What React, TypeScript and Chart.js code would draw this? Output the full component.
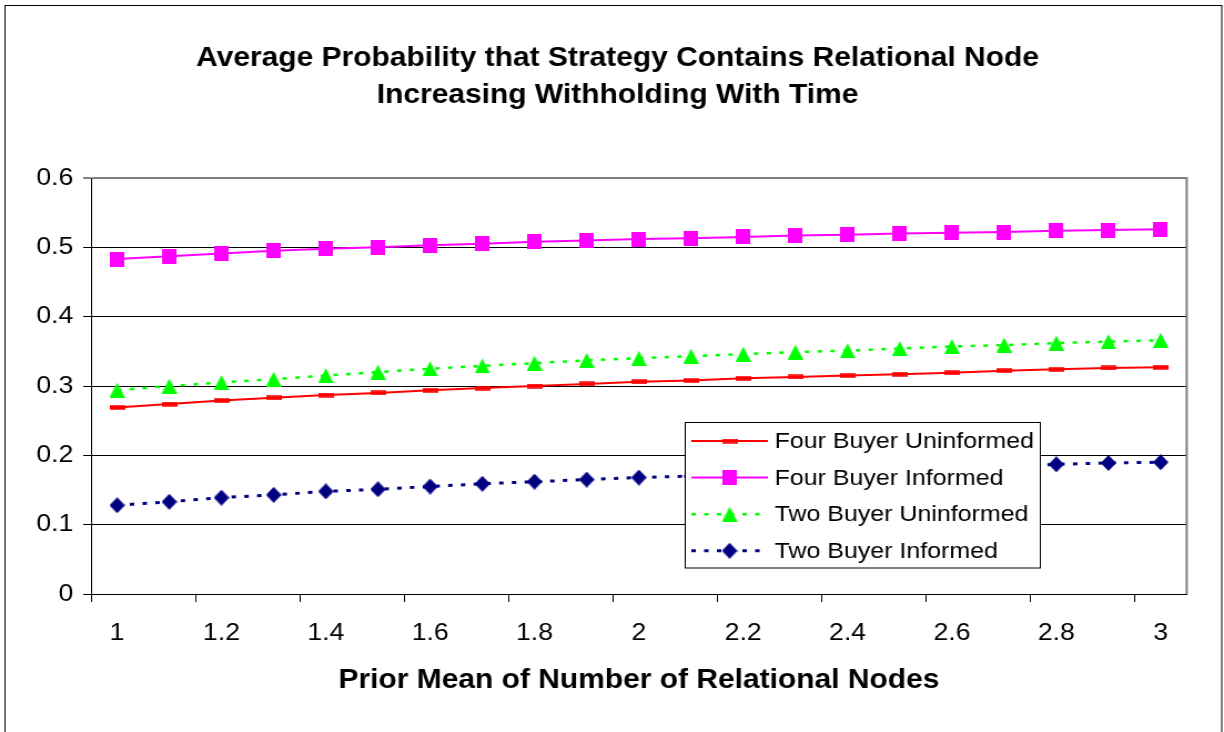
import React, { useEffect, useRef } from 'react';
import { Chart, registerables } from 'chart.js';

Chart.register(...registerables);

// ---------- data ----------
const xCategories = [
  '1', '1.1', '1.2', '1.3', '1.4', '1.5', '1.6', '1.7', '1.8', '1.9', '2',
  '2.1', '2.2', '2.3', '2.4', '2.5', '2.6', '2.7', '2.8', '2.9', '3',
];
const xTickLabels = ['1', '1.2', '1.4', '1.6', '1.8', '2', '2.2', '2.4', '2.6', '2.8', '3'];
const yTickLabels = ['0', '0.1', '0.2', '0.3', '0.4', '0.5', '0.6'];

const seriesNames = [
  'Four Buyer Uninformed',
  'Four Buyer Informed',
  'Two Buyer Uninformed',
  'Two Buyer Informed',
];

const fourBuyerUninformed = [
  0.269, 0.274, 0.279, 0.283, 0.287, 0.290, 0.294, 0.297, 0.300, 0.303, 0.306,
  0.308, 0.311, 0.313, 0.315, 0.317, 0.319, 0.322, 0.324, 0.326, 0.327,
];
const fourBuyerInformed = [
  0.483, 0.487, 0.491, 0.495, 0.498, 0.500, 0.503, 0.505, 0.508, 0.510, 0.512,
  0.513, 0.515, 0.517, 0.518, 0.520, 0.521, 0.522, 0.524, 0.525, 0.526,
];
const twoBuyerUninformed = [
  0.294, 0.300, 0.305, 0.310, 0.315, 0.320, 0.325, 0.329, 0.333, 0.337, 0.340,
  0.343, 0.346, 0.349, 0.351, 0.354, 0.357, 0.359, 0.362, 0.364, 0.366,
];
const twoBuyerInformed = [
  0.128, 0.133, 0.139, 0.143, 0.148, 0.151, 0.155, 0.159, 0.162, 0.165, 0.168,
  0.170, 0.173, 0.175, 0.178, 0.180, 0.182, 0.184, 0.187, 0.189, 0.190,
];

const titleLines = [
  'Average Probability that Strategy Contains Relational Node',
  'Increasing Withholding With Time',
];
const xAxisTitle = 'Prior Mean of Number of Relational Nodes';

// ---------- drawing constants ----------
const FONT = '"Liberation Sans", Arial, sans-serif';
const NATURAL_W = 1103; // rendered width, stretched to 1224 on screen
const H = 732;

function makeMarker(kind: string, color: string): HTMLCanvasElement {
  const c = document.createElement('canvas');
  let w = 14;
  let h = 15;
  if (kind === 'square') { w = 13; h = 15; }
  if (kind === 'diamond') { w = 14; h = 16; }
  if (kind === 'dash') { w = 14; h = 5; }
  c.width = w;
  c.height = h;
  const g = c.getContext('2d') as CanvasRenderingContext2D;
  g.fillStyle = color;
  g.beginPath();
  if (kind === 'square') {
    g.rect(0, 0, w, h);
  } else if (kind === 'triangle') {
    g.moveTo(w / 2, 0);
    g.lineTo(w, h);
    g.lineTo(0, h);
    g.closePath();
  } else if (kind === 'diamond') {
    g.moveTo(w / 2, 0);
    g.lineTo(w, h / 2);
    g.lineTo(w / 2, h);
    g.lineTo(0, h / 2);
    g.closePath();
  } else {
    g.rect(0, 0.25, w, 4.5);
  }
  g.fill();
  return c;
}

const framePlugin = {
  id: 'frame',
  beforeDraw(chart: any) {
    const ctx = chart.ctx as CanvasRenderingContext2D;
    ctx.save();
    ctx.fillStyle = '#ffffff';
    ctx.fillRect(0, 0, chart.width, chart.height);
    ctx.strokeStyle = '#000000';
    ctx.lineWidth = 1;
    ctx.strokeRect(4.5, 5.5, 1096.5, 760);
    ctx.fillStyle = '#000000';
    ctx.font = `bold 27px ${FONT}`;
    ctx.textAlign = 'center';
    ctx.textBaseline = 'middle';
    titleLines.forEach((t, i) => ctx.fillText(t, 556.5, 58.5 + i * 37.5));
    ctx.restore();
  },
  afterDatasetsDraw(chart: any) {
    const ctx = chart.ctx as CanvasRenderingContext2D;
    const a = chart.chartArea;
    ctx.save();
    // plot area right border
    ctx.strokeStyle = '#808080';
    ctx.lineWidth = 2;
    ctx.beginPath();
    ctx.moveTo(a.right, a.top - 1);
    ctx.lineTo(a.right, a.bottom);
    ctx.stroke();

    // legend box
    const lx = 617.5;
    const ly = 422.5;
    const lw = 320;
    const lh = 145.5;
    ctx.fillStyle = '#ffffff';
    ctx.fillRect(lx, ly, lw, lh);
    ctx.strokeStyle = '#000000';
    ctx.lineWidth = 1;
    ctx.strokeRect(lx, ly, lw, lh);
    chart.data.datasets.forEach((ds: any, i: number) => {
      const y = 441 + i * 36.6;
      ctx.strokeStyle = ds.borderColor;
      ctx.lineWidth = ds.borderWidth;
      ctx.setLineDash(ds.borderDash || []);
      ctx.beginPath();
      ctx.moveTo(623, y);
      ctx.lineTo(692, y);
      ctx.stroke();
      ctx.setLineDash([]);
      const m = ds.pointStyle as HTMLCanvasElement;
      ctx.drawImage(m, 657.5 - m.width / 2, y - m.height / 2);
      ctx.fillStyle = '#000000';
      ctx.font = `22.5px ${FONT}`;
      ctx.textAlign = 'left';
      ctx.textBaseline = 'middle';
      ctx.fillText(ds.label, 698, y + 1);
    });
    ctx.restore();
  },
};

export default function App() {
  const canvasRef = useRef<HTMLCanvasElement | null>(null);

  useEffect(() => {
    const canvas = canvasRef.current;
    if (!canvas) return;
    const chart = new Chart(canvas, {
      type: 'line',
      data: {
        labels: xCategories,
        datasets: [
          {
            label: seriesNames[0],
            data: fourBuyerUninformed,
            borderColor: '#ff0000',
            borderWidth: 2,
            pointStyle: makeMarker('dash', '#ff0000'),
            pointRadius: 7,
            tension: 0,
            fill: false,
          },
          {
            label: seriesNames[1],
            data: fourBuyerInformed,
            borderColor: '#ff00ff',
            borderWidth: 2,
            pointStyle: makeMarker('square', '#ff00ff'),
            pointRadius: 7,
            tension: 0,
            fill: false,
          },
          {
            label: seriesNames[2],
            data: twoBuyerUninformed,
            borderColor: '#00ff00',
            borderWidth: 2.5,
            borderDash: [4, 7.5],
            pointStyle: makeMarker('triangle', '#00ff00'),
            pointRadius: 7,
            tension: 0,
            fill: false,
          },
          {
            label: seriesNames[3],
            data: twoBuyerInformed,
            borderColor: '#000080',
            borderWidth: 3,
            borderDash: [4, 7.5],
            pointStyle: makeMarker('diamond', '#000080'),
            pointRadius: 7,
            tension: 0,
            fill: false,
          },
        ],
      },
      options: {
        animation: false,
        responsive: false,
        devicePixelRatio: 1,
        events: [],
        layout: { padding: { top: 178, right: NATURAL_W - 1069.4, bottom: 0, left: 0 } },
        plugins: {
          legend: { display: false },
          title: { display: false },
          tooltip: { enabled: false },
        },
        scales: {
          x: {
            type: 'category',
            offset: true,
            afterFit: (scale: any) => { scale.height = H - 594; },
            grid: {
              offset: true,
              drawOnChartArea: false,
              drawTicks: true,
              tickLength: 8,
              color: (c: any) => (c.index % 2 === 0 ? '#000000' : 'rgba(0,0,0,0)'),
            },
            border: { display: true, color: '#000000', width: 1 },
            ticks: {
              autoSkip: false,
              maxRotation: 0,
              minRotation: 0,
              padding: 17,
              color: '#000000',
              font: { family: FONT, size: 24 },
              callback: (_v: any, index: number) => (index % 2 === 0 ? xTickLabels[index / 2] : ''),
            },
            title: {
              display: true,
              text: xAxisTitle,
              color: '#000000',
              font: { family: FONT, size: 27, weight: 'bold' },
              padding: { top: 0, bottom: 35 },
            },
          },
          y: {
            min: 0,
            max: 0.6,
            afterFit: (scale: any) => { scale.width = 82; },
            grid: {
              drawTicks: true,
              tickLength: 7,
              color: (c: any) => (c.index === 6 ? '#808080' : '#000000'),
              lineWidth: (c: any) => (c.index === 6 ? 2 : 1),
            },
            border: { display: true, color: '#000000', width: 1 },
            ticks: {
              stepSize: 0.1,
              padding: 9,
              color: '#000000',
              font: { family: FONT, size: 24 },
              callback: (_v: any, index: number) => yTickLabels[index],
            },
          },
        },
      },
      plugins: [framePlugin],
    } as any);
    return () => chart.destroy();
  }, []);

  return (
    <div style={{ position: 'absolute', left: 0, top: 0, width: 1224, height: H, background: '#fff' }}>
      <canvas
        ref={canvasRef}
        width={NATURAL_W}
        height={H}
        style={{ width: '1224px', height: `${H}px`, display: 'block' }}
      />
    </div>
  );
}
